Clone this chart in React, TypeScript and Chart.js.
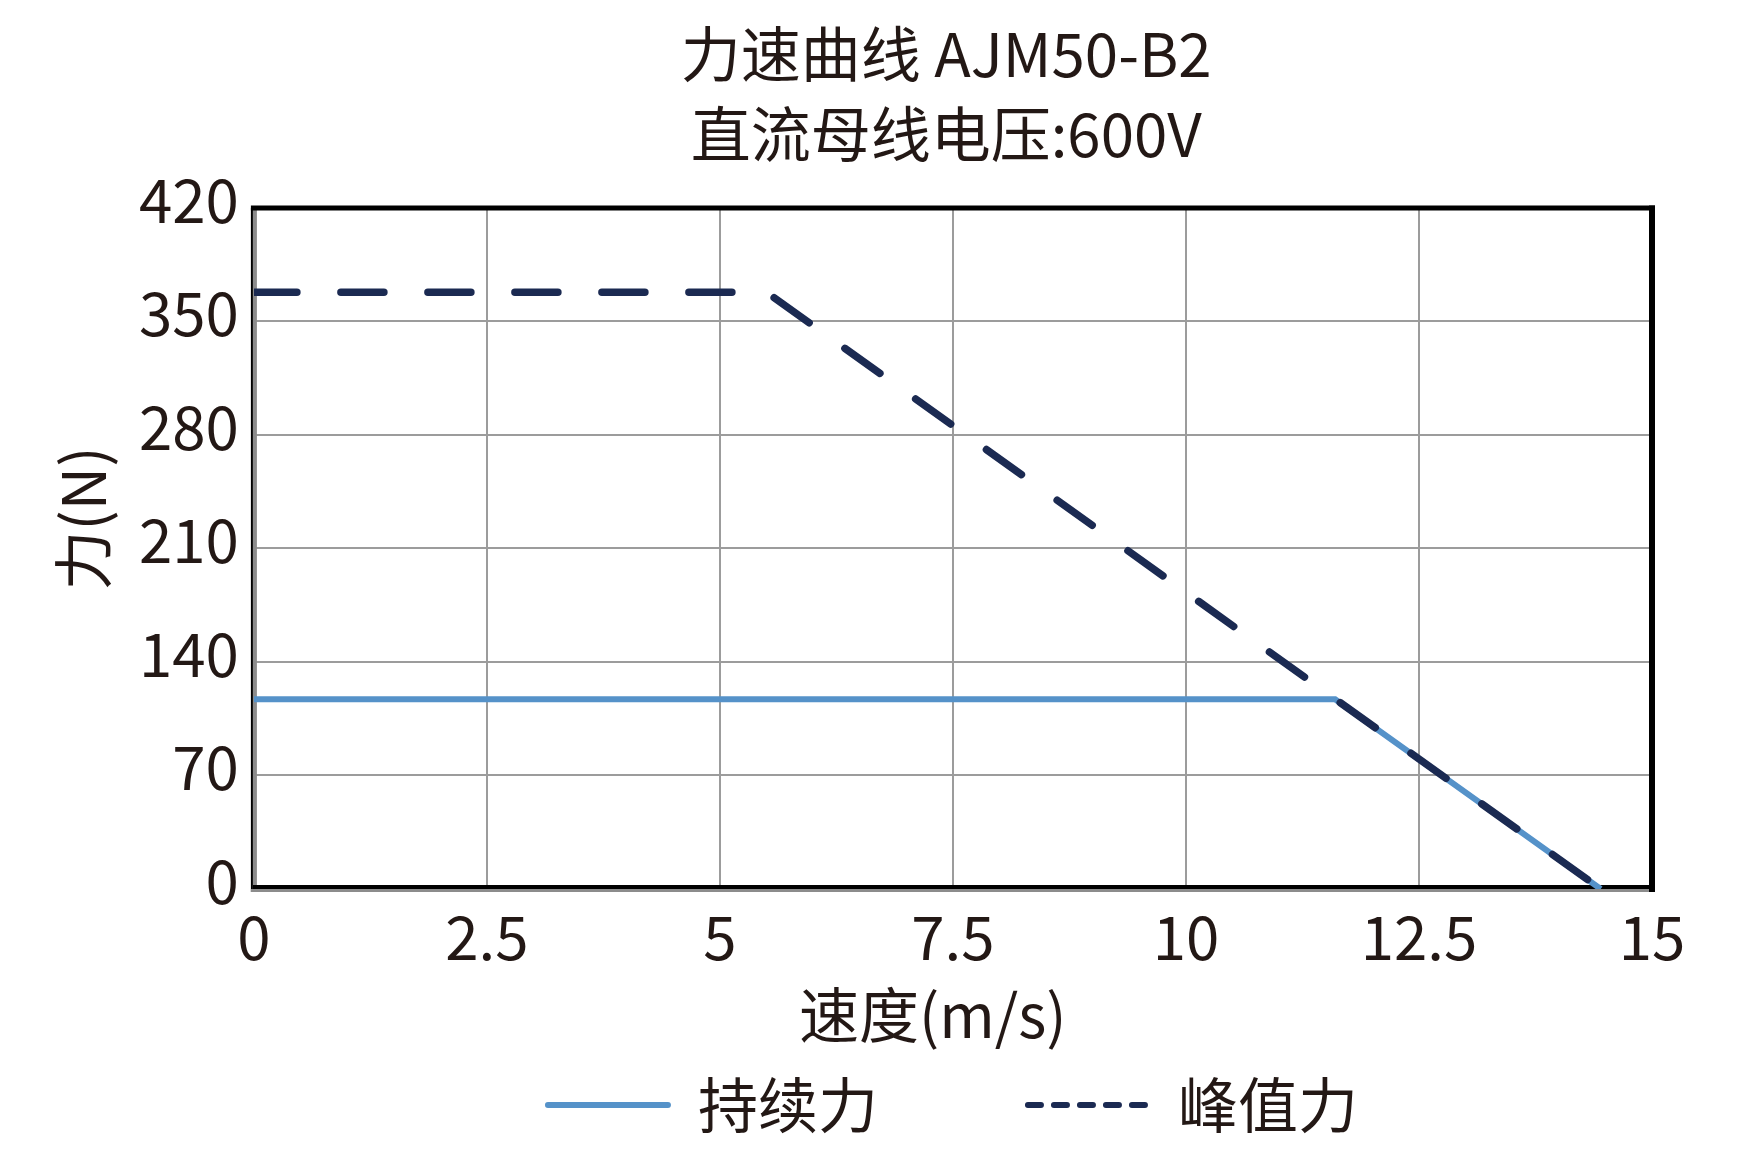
import React, { useEffect, useRef } from 'react';
import { Chart, registerables } from 'chart.js';

Chart.register(...registerables);

const titleLines = ['力速曲线 AJM50-B2', '直流母线电压:600V'];
const xAxisTitle = '速度(m/s)';
const yAxisTitle = '力(N)';
const seriesNames = ['持续力', '峰值力'];

const continuousSpeed = [0, 11.6, 14.45];
const continuousForce = [117, 117, 0];
const peakSpeed = [0, 5.5, 14.45];
const peakForce = [368, 368, 0];

const xTickLabels = ['0', '2.5', '5', '7.5', '10', '12.5', '15'];
const yTickLabels = ['0', '70', '140', '210', '280', '350', '420'];
const xMin = 0, xMax = 15, xStep = 2.5;
const yMin = 0, yMax = 420, yStep = 70;

const TEXT = '#231815';
const GRID = '#9c9c9c';
const BLUE = '#5592c9';
const NAVY = '#1b2a52';
const FONT = '"Noto Sans CJK SC", "Noto Sans", sans-serif';

const framePlugin = {
  id: 'frame',
  beforeDatasetsDraw(chart: any) {
    const { ctx, chartArea } = chart;
    const { left: L, right: R, top: T, bottom: B } = chartArea;
    ctx.save();
    ctx.lineCap = 'butt';
    ctx.strokeStyle = '#8c8c8c';
    ctx.lineWidth = 4;
    ctx.beginPath(); ctx.moveTo(L + 1, T); ctx.lineTo(L + 1, B + 3); ctx.stroke();
    ctx.strokeStyle = '#000';
    ctx.lineWidth = 2;
    ctx.beginPath(); ctx.moveTo(L - 2, T); ctx.lineTo(L - 2, B + 3); ctx.stroke();
    ctx.strokeStyle = '#8c8c8c';
    ctx.lineWidth = 3;
    ctx.beginPath(); ctx.moveTo(L - 3, B + 1.5); ctx.lineTo(R, B + 1.5); ctx.stroke();
    ctx.strokeStyle = '#000';
    ctx.lineWidth = 4;
    ctx.beginPath(); ctx.moveTo(L - 1, B - 2); ctx.lineTo(R, B - 2); ctx.stroke();
    ctx.lineWidth = 5;
    ctx.beginPath(); ctx.moveTo(L - 3, T); ctx.lineTo(R + 3, T); ctx.stroke();
    ctx.lineWidth = 6;
    ctx.beginPath(); ctx.moveTo(R, T - 2.5); ctx.lineTo(R, B + 3); ctx.stroke();
    ctx.restore();
  },
};

export default function App() {
  const canvasRef = useRef<HTMLCanvasElement | null>(null);

  useEffect(() => {
    if (!canvasRef.current) return;
    Chart.defaults.font.family = FONT;
    Chart.defaults.color = TEXT;

    const chart = new Chart(canvasRef.current, {
      type: 'line',
      data: {
        datasets: [
          {
            label: seriesNames[0],
            data: continuousSpeed.map((x, i) => ({ x, y: continuousForce[i] })),
            borderColor: BLUE,
            backgroundColor: BLUE,
            borderWidth: 6,
            pointRadius: 0,
            tension: 0,
            fill: false,
            order: 1,
          },
          {
            label: seriesNames[1],
            data: peakSpeed.map((x, i) => ({ x, y: peakForce[i] })),
            borderColor: NAVY,
            backgroundColor: NAVY,
            borderWidth: 7.5,
            borderDash: [43, 44],
            borderCapStyle: 'round',
            pointRadius: 0,
            tension: 0,
            fill: false,
            order: 0,
          },
        ],
      },
      options: {
        responsive: true,
        maintainAspectRatio: false,
        animation: false,
        layout: { padding: { left: 34, right: 98, top: 0, bottom: 11 } },
        scales: {
          x: {
            type: 'linear',
            min: xMin,
            max: xMax,
            ticks: {
              stepSize: xStep,
              padding: 18,
              maxRotation: 0,
              autoSkip: false,
              color: TEXT,
              font: { size: 60, lineHeight: 1 },
              callback: (_v: any, i: number) => xTickLabels[i],
            },
            grid: { color: GRID, lineWidth: 2, drawTicks: false },
            border: { display: false },
            title: {
              display: true,
              text: xAxisTitle + '   ',
              color: TEXT,
              font: { size: 60, lineHeight: 1 },
              padding: { top: 0, bottom: 0 },
            },
          },
          y: {
            type: 'linear',
            min: yMin,
            max: yMax,
            ticks: {
              stepSize: yStep,
              padding: 15,
              labelOffset: -8,
              autoSkip: false,
              color: TEXT,
              font: { size: 60, lineHeight: 1 },
              callback: (_v: any, i: number) => yTickLabels[i],
            },
            grid: { color: GRID, lineWidth: 2, drawTicks: false },
            border: { display: false },
            title: {
              display: true,
              text: '\u3000' + yAxisTitle,
              color: TEXT,
              font: { size: 60, lineHeight: 1 },
              padding: { top: 19, bottom: 11 },
            },
          },
        },
        plugins: {
          title: {
            display: true,
            text: titleLines.map((t) => t + ' '),
            color: TEXT,
            fullSize: false,
            font: { size: 60, weight: 'normal', lineHeight: 1.333 },
            padding: { top: 14, bottom: 34 },
          },
          legend: {
            display: true,
            position: 'bottom',
            fullSize: false,
            labels: {
              color: TEXT,
              font: { size: 60 },
              padding: 30,
              usePointStyle: true,
              pointStyle: 'line',
              pointStyleWidth: 120,
              sort: (a: any, b: any) => a.datasetIndex - b.datasetIndex,
              generateLabels: (c: any) => {
                const items = (Chart.defaults.plugins.legend.labels as any).generateLabels(c);
                return items.map((it: any) => {
                  it.lineWidth = 6;
                  it.lineCap = 'round';
                  it.pointStyle = 'line';
                  if (it.datasetIndex === 0) {
                    it.text = seriesNames[0] + '\u3000\u3000';
                    it.lineDash = [];
                  } else {
                    it.text = seriesNames[1];
                    it.lineDash = [13, 13];
                  }
                  return it;
                });
              },
            },
          },
          tooltip: { enabled: false },
        },
      },
      plugins: [framePlugin],
    } as any);

    return () => chart.destroy();
  }, []);

  return (
    <div style={{ position: 'absolute', left: 0, top: 0, width: 1750, height: 1156, background: '#fff' }}>
      <canvas ref={canvasRef} />
    </div>
  );
}
